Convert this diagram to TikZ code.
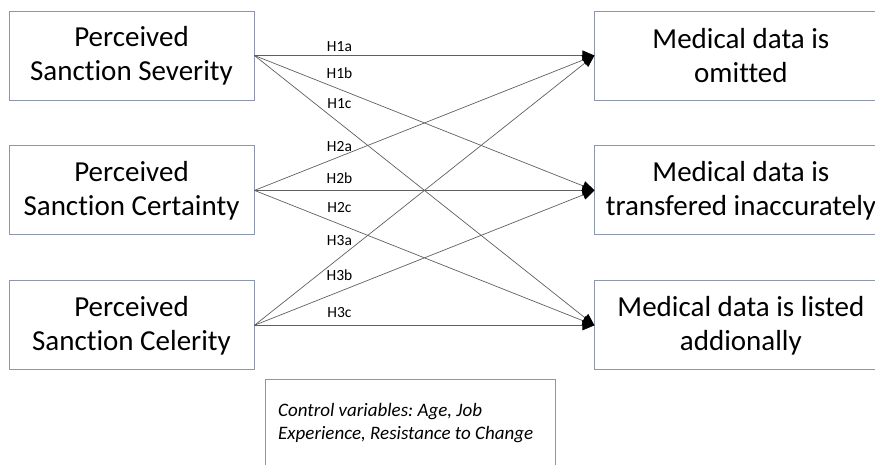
\documentclass[tikz,border=0pt]{standalone}
\usepackage{fontspec}
\setmainfont{Carlito}[Ligatures=NoCommon]
\usetikzlibrary{arrows.meta, positioning}
\frenchspacing
\definecolor{boxline}{RGB}{140,150,172}
\definecolor{pathline}{RGB}{95,95,95}
\tikzset{
	construct/.style = {draw=boxline, line width=0.9pt, minimum width=245pt, minimum height=89pt, align=center, inner sep=2pt, font=\fontsize{29}{34}\selectfont},
	outcome/.style = {construct, minimum width=292pt},
	hypo/.style = {draw=pathline, line width=0.7pt, -{Triangle[length=12pt, width=10pt, color=black]}},
	hlabel/.style = {font=\fontsize{15.5}{18}\selectfont, inner sep=4pt}
}
\begin{document}
\begin{tikzpicture}[x=1pt, y=-1pt]
				\clip (0, 0) rectangle (875, 465);

				% predictors
				\node[construct] (s1) at (131.5, 55.5) {Perceived\\Sanction Severity};
				\node[construct, below=45pt of s1] (s2) {Perceived\\Sanction Certainty};
				\node[construct, below=45pt of s2] (s3) {Perceived\\Sanction Celerity};

				% outcomes
				\node[outcome, right=340pt of s1] (t1) {Medical data is\\omitted};
				\node[outcome, right=340pt of s2] (t2) {Medical data is\\transfered inaccurately};
				\node[outcome, right=340pt of s3] (t3) {Medical data is listed\\addionally};

				% hypotheses (last value lifts the label off steeper lines)
				\foreach \s/\t/\l/\dy in {1/1/a/0, 1/2/b/6, 1/3/c/10, 2/1/a/1, 2/2/b/2, 2/3/c/7, 3/1/a/8, 3/2/b/7, 3/3/c/3}
					\draw[hypo] (s\s.east) -- (t\t.west) node[hlabel, pos=0.25, above, yshift=\dy pt] {H\s\l};

				% controls
				\node[draw=boxline, line width=0.9pt, minimum width=290pt, minimum height=110pt, anchor=north west] (ctrl) at (265, 379) {};
				\node[anchor=west, align=left, inner sep=0pt, font=\fontsize{19}{23}\selectfont\itshape] (ctrltext) at (278, 423) {Control variables: Age, Job\\Experience, Resistance to Change};
\end{tikzpicture}
\end{document}
